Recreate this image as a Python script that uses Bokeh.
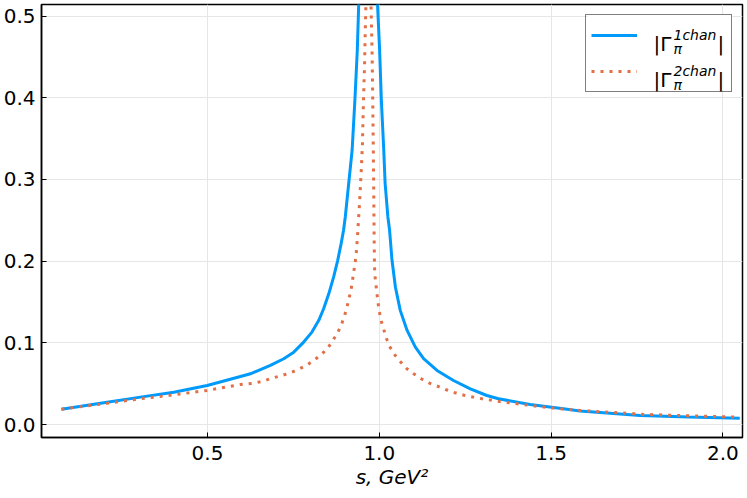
from bokeh.plotting import figure
from bokeh.models import (Range1d, FixedTicker, Legend, LegendItem,
                          CustomJSTickFormatter)
from bokeh.core.properties import value
from bokeh.embed import file_html
from bokeh.resources import INLINE

# ---------------- data ----------------
s_1chan = [0.075, 0.208, 0.305, 0.402, 0.499, 0.596, 0.625, 0.683, 0.722, 0.751,
           0.780, 0.804, 0.824, 0.838, 0.853, 0.867, 0.879, 0.889, 0.896, 0.901,
           0.911, 0.921, 0.929, 0.936, 0.940, 0.947, 0.967, 0.988, 0.995, 1.001,
           1.006, 1.013, 1.017, 1.025, 1.030, 1.037, 1.047, 1.061, 1.081, 1.105,
           1.129, 1.168, 1.216, 1.265, 1.313, 1.347, 1.439, 1.536, 1.584, 1.759,
           1.900, 2.049]
g_1chan = [0.0188, 0.0273, 0.0335, 0.0396, 0.0478, 0.0588, 0.0621, 0.0723, 0.0805, 0.0886,
           0.1009, 0.1131, 0.1275, 0.1417, 0.160, 0.1805, 0.201, 0.2214, 0.2377, 0.254,
           0.295, 0.336, 0.397, 0.458, 0.513, 0.72, 2.0, 0.72, 0.513, 0.458,
           0.397, 0.336, 0.295, 0.254, 0.2377, 0.201, 0.168, 0.1397, 0.1152, 0.0947,
           0.0805, 0.0662, 0.0539, 0.0437, 0.0355, 0.0315, 0.0245, 0.0192, 0.0165, 0.0110,
           0.0092, 0.0078]

s_2chan = [0.075, 0.208, 0.305, 0.402, 0.499, 0.596, 0.635, 0.662, 0.688, 0.714,
           0.739, 0.764, 0.788, 0.809, 0.831, 0.850, 0.865, 0.879, 0.890, 0.899,
           0.906, 0.912, 0.918, 0.922, 0.926, 0.930, 0.933, 0.935, 0.937, 0.943,
           0.948, 0.951, 0.954, 0.957, 0.959, 0.961, 0.9645, 0.9685, 0.9725, 0.976,
           0.979, 0.981, 0.9825, 0.984, 0.985, 0.986, 0.987, 0.990, 0.993, 0.996,
           1.000, 1.005, 1.013, 1.020, 1.030, 1.044, 1.061, 1.078, 1.100, 1.122,
           1.146, 1.171, 1.195, 1.221, 1.247, 1.274, 1.299, 1.342, 1.439, 1.536,
           1.584, 1.773, 2.045]
g_2chan = [0.0188, 0.026, 0.0315, 0.0364, 0.0417, 0.049, 0.0506, 0.0531, 0.0567, 0.0597,
           0.0629, 0.0674, 0.0723, 0.0784, 0.0854, 0.0935, 0.1029, 0.1124, 0.1225, 0.1332,
           0.1438, 0.1548, 0.1654, 0.1765, 0.1879, 0.1989, 0.210, 0.2214, 0.2328, 0.2745,
           0.315, 0.344, 0.397, 0.438, 0.479, 0.513, 0.75, 1.6, 0.75, 0.513,
           0.458, 0.397, 0.34, 0.28, 0.23, 0.195, 0.1834, 0.1724, 0.161, 0.150,
           0.1385, 0.1275, 0.1164, 0.1062, 0.0956, 0.0858, 0.0772, 0.069, 0.0621, 0.056,
           0.0506, 0.0466, 0.0425, 0.0388, 0.0359, 0.0335, 0.0315, 0.0286, 0.0233, 0.0188,
           0.0172, 0.0123, 0.0090]

x_ticks = [0.5, 1.0, 1.5, 2.0]
y_ticks = [0.0, 0.1, 0.2, 0.3, 0.4, 0.5]
x_label = "s, GeV²"
legend_nums = ["1", "2"]

BLUE = "#009AFA"
RED = "#E26F46"

# ---------------- layout ----------------
W, H = 747, 498
BL, BR, BT, BB = 41, 5, 4, 61
FW = W - BL - BR
FH = H - BT - BB
X0, X1 = 0.017, 2.057
Y0, Y1 = -0.0159, 0.5141

p = figure(width=W, height=H, output_backend="svg", toolbar_location=None,
           x_range=Range1d(X0, X1), y_range=Range1d(Y0, Y1),
           min_border_left=BL, min_border_right=BR, min_border_top=BT,
           min_border_bottom=BB)
p.background_fill_color = "white"
p.border_fill_color = "white"
p.outline_line_color = "black"
p.outline_line_width = 1.5

r1 = p.line(s_1chan, g_1chan, line_color=BLUE, line_width=3)
r2 = p.line(s_2chan, g_2chan, line_color=RED, line_width=3, line_dash="3 6")

for ax in (p.xaxis[0], p.yaxis[0]):
    ax.axis_line_color = "black"
    ax.axis_line_width = 1.5
    ax.major_tick_in = 5
    ax.major_tick_out = 0
    ax.major_tick_line_color = "black"
    ax.major_tick_line_width = 1
    ax.minor_tick_line_color = None
    ax.major_label_text_font = "DejaVu Sans"
    ax.major_label_text_font_size = "20px"
    ax.major_label_text_color = "black"
    ax.formatter = CustomJSTickFormatter(code="return tick.toFixed(1);")

p.xaxis.ticker = FixedTicker(ticks=x_ticks)
p.yaxis.ticker = FixedTicker(ticks=y_ticks)
p.xaxis.major_label_standoff = 8
p.yaxis.major_label_standoff = 6
p.xaxis.axis_label = x_label
p.xaxis.axis_label_text_font = "DejaVu Sans"
p.xaxis.axis_label_text_font_style = "italic"
p.xaxis.axis_label_text_font_size = "20px"
p.xaxis.axis_label_text_color = "black"
p.xaxis.axis_label_standoff = 2

p.xgrid.grid_line_color = "#e6e6e6"
p.ygrid.grid_line_color = "#e6e6e6"
p.xgrid.grid_line_width = 1
p.ygrid.grid_line_width = 1

# ---------------- legend ----------------
LM, LP, GW, LS, LW, IH, SP = 10, 5, 46, 14, 75, 30, 6
legend = Legend(items=[LegendItem(label=" ", renderers=[r1]),
                       LegendItem(label=" ", renderers=[r2])],
                location="top_right", margin=LM, padding=LP, spacing=SP,
                glyph_width=GW, glyph_height=IH, label_width=LW, label_height=IH,
                label_standoff=LS, border_line_color="black", border_line_width=1.5,
                background_fill_alpha=0.0)
p.add_layout(legend)


def dx(sx):
    return X0 + sx * (X1 - X0) / FW


def dy(sy):
    return Y0 + sy * (Y1 - Y0) / FH


leg_w = 2 * LP + GW + LS + LW
leg_h = 2 * LP + len(legend_nums) * IH + (len(legend_nums) - 1) * SP
leg_left = FW - LM - leg_w
leg_top = FH - LM

# white backing for the (transparent) legend box, hides grid lines beneath it
p.quad(left=[dx(leg_left)], right=[dx(leg_left + leg_w)],
       top=[dy(leg_top)], bottom=[dy(leg_top - leg_h)],
       fill_color="white", line_color=None)

centres = [leg_top - LP - IH / 2 - i * (IH + SP) for i in range(len(legend_nums))]

big_x, big_y, big_t = [], [], []
sup_x, sup_y, sup_t = [], [], []
sub_x, sub_y, sub_t = [], [], []
for cy, num in zip(centres, legend_nums):
    big_x += [dx(leg_left + 66), dx(leg_left + 130)]
    big_y += [dy(cy - 9), dy(cy - 9)]
    big_t += ["|Γ", "|"]
    sup_x.append(dx(leg_left + 86))
    sup_y.append(dy(cy))
    sup_t.append(num + "chan")
    sub_x.append(dx(leg_left + 86))
    sub_y.append(dy(cy - 14))
    sub_t.append("π")

for xs, ys, ts, fs, st in [(big_x, big_y, big_t, "20px", "normal"),
                           (sup_x, sup_y, sup_t, "14px", "italic"),
                           (sub_x, sub_y, sub_t, "14px", "italic")]:
    p.text(x=xs, y=ys, text=ts, text_font=value("DejaVu Sans"),
           text_font_size=value(fs), text_font_style=st, text_color="black",
           text_align="left", text_baseline="alphabetic")

open("out.html", "w").write(file_html(p, INLINE))
